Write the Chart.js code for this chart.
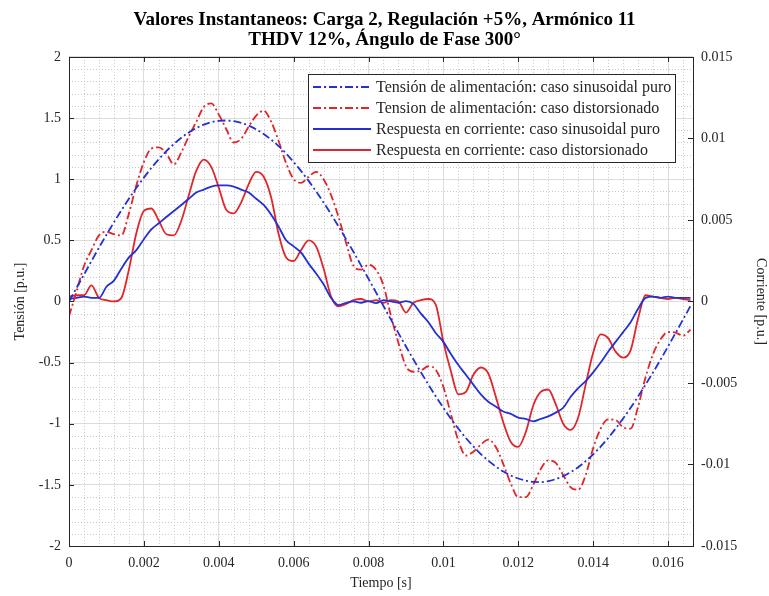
<!DOCTYPE html>
<html>
<head>
<meta charset="utf-8">
<script src="https://cdn.jsdelivr.net/npm/chart.js@4"></script>
<style>
	html, body { margin: 0; padding: 0; background: #fff; }
	canvas { display: block; }
</style>
</head>
<body>
<canvas id="chart" width="769" height="596"></canvas>
<script>
// tiempo [s], one sample every 0.2 ms over one 60 Hz cycle
const time = [0,0.0002,0.0004,0.0006,0.0008,0.001,0.0012,0.0014,0.0016,0.0018,
	0.002,0.0022,0.0024,0.0026,0.0028,0.003,0.0032,0.0034,0.0036,0.0038,
	0.004,0.0042,0.0044,0.0046,0.0048,0.005,0.0052,0.0054,0.0056,0.0058,
	0.006,0.0062,0.0064,0.0066,0.0068,0.007,0.0072,0.0074,0.0076,0.0078,
	0.008,0.0082,0.0084,0.0086,0.0088,0.009,0.0092,0.0094,0.0096,0.0098,
	0.01,0.0102,0.0104,0.0106,0.0108,0.011,0.0112,0.0114,0.0116,0.0118,
	0.012,0.0122,0.0124,0.0126,0.0128,0.013,0.0132,0.0134,0.0136,0.0138,
	0.014,0.0142,0.0144,0.0146,0.0148,0.015,0.0152,0.0154,0.0156,0.0158,
	0.016,0.0162,0.0164,0.0166];

// tension [p.u.] (left axis)
const tensionSinusoidal = [0,0.11,0.22,0.33,0.44,0.545,0.647,0.745,0.84,0.929,
	1.013,1.092,1.164,1.229,1.287,1.339,1.382,1.418,1.446,1.466,
	1.477,1.48,1.474,1.46,1.438,1.408,1.369,1.323,1.27,1.21,
	1.14,1.066,0.986,0.9,0.809,0.713,0.613,0.51,0.404,0.295,
	0.185,0.074,-0.037,-0.149,-0.259,-0.368,-0.475,-0.579,-0.68,-0.778,
	-0.87,-0.959,-1.04,-1.117,-1.185,-1.248,-1.302,-1.35,-1.391,-1.423,
	-1.448,-1.465,-1.476,-1.477,-1.47,-1.453,-1.429,-1.396,-1.356,-1.306,
	-1.25,-1.187,-1.117,-1.04,-0.958,-0.87,-0.777,-0.68,-0.58,-0.476,
	-0.368,-0.259,-0.148,-0.037];

const tensionDistorted = [-0.12,0.08,0.29,0.42,0.54,0.57,0.55,0.54,0.72,0.95,
	1.14,1.25,1.26,1.21,1.12,1.22,1.35,1.47,1.59,1.62,
	1.53,1.41,1.3,1.33,1.43,1.52,1.56,1.47,1.31,1.13,
	1.0,0.97,1.02,1.06,1.0,0.87,0.69,0.48,0.29,0.26,
	0.3,0.26,0.13,-0.12,-0.34,-0.53,-0.575,-0.565,-0.53,-0.56,
	-0.7,-0.92,-1.14,-1.26,-1.23,-1.17,-1.13,-1.19,-1.33,-1.49,
	-1.6,-1.6,-1.5,-1.37,-1.3,-1.32,-1.42,-1.52,-1.54,-1.42,
	-1.2,-1.04,-0.965,-0.97,-1.03,-1.04,-0.86,-0.62,-0.43,-0.31,
	-0.25,-0.255,-0.28,-0.23];

// corriente [p.u.] (right axis)
const currentSinusoidal = [0.00015,0.00022,0.0003,0.00022,0.00022,0.0009,0.00128,0.00202,0.0027,0.00315,
	0.00382,0.00442,0.0048,0.00518,0.00555,0.00592,0.0063,0.00668,0.00686,0.00705,
	0.00712,0.00712,0.00705,0.00686,0.00668,0.0063,0.00592,0.00532,0.00458,0.00375,
	0.00338,0.003,0.00232,0.00172,0.00105,0.00022,-0.00022,-0.00008,0,-0.00008,
	0.00002,-0.0001,0.00008,0,-0.00008,0.00002,-0.00015,-0.00075,-0.00128,-0.00195,
	-0.00248,-0.00322,-0.0039,-0.0045,-0.0051,-0.0057,-0.00615,-0.00645,-0.00675,-0.0069,
	-0.00712,-0.0072,-0.00735,-0.0072,-0.00705,-0.00682,-0.00652,-0.00585,-0.00532,-0.00488,
	-0.00435,-0.00375,-0.00308,-0.00248,-0.00188,-0.00128,-0.00045,0.00022,0.0003,0.00022,
	0.0003,0.00022,0.00022,0.00022];

const currentDistorted = [0.0003,0.00038,0.00038,0.00098,0.00022,0.00008,0,0.00022,0.00195,0.0042,
	0.00555,0.0057,0.00495,0.00412,0.00405,0.00495,0.00652,0.00802,0.0087,0.00825,
	0.00698,0.00562,0.0054,0.00608,0.0072,0.00795,0.00765,0.00638,0.00412,0.0027,
	0.00248,0.00315,0.00375,0.00338,0.00202,0.0003,-0.0003,-0.00015,0.00008,0.00015,
	0,0.00008,-0.00008,0.00008,0,-0.00068,-0.00008,0.00008,0.00015,-0.00022,
	-0.00248,-0.00428,-0.0057,-0.00555,-0.0045,-0.00405,-0.00442,-0.00585,-0.00742,-0.00862,
	-0.00892,-0.00802,-0.00638,-0.00555,-0.0054,-0.0063,-0.0075,-0.00788,-0.00712,-0.0051,
	-0.00315,-0.00202,-0.00225,-0.00308,-0.00345,-0.003,-0.00105,0.00038,0.0003,0.00022,
	0.00015,0.00022,0.00015,0.00008];

const BLUE = '#2331d2';
const RED = '#e1262b';
const DASH_DOT = [8, 3, 2, 3];
const LINE_WIDTH = 1.8;
const SERIF = '"Liberation Serif", "Times New Roman", serif';
const INK = '#262626';

const toPoints = (values) => values.map((v, i) => ({ x: time[i], y: v }));
const fmt = (v) => String(Number(v.toFixed(4)));
const crisp = (p) => Math.round(p) + 0.5;

// minor dotted grid, MATLAB-style box with inward ticks, legend inside the axes
const frame = {
	id: 'frame',
	beforeDatasetsDraw(chart) {
		const { ctx, chartArea: a, scales } = chart;
		ctx.save();
		ctx.strokeStyle = '#c9c9c9';
		ctx.lineWidth = 1;
		ctx.setLineDash([1, 2]);
		ctx.beginPath();
		for (let i = 1; i * 0.0004 < scales.x.max; i++) {
			if (i % 5 === 0) continue;
			const px = crisp(scales.x.getPixelForValue(i * 0.0004));
			ctx.moveTo(px, a.top);
			ctx.lineTo(px, a.bottom);
		}
		for (let i = -19; i <= 19; i++) {
			if (i % 5 === 0) continue;
			const py = crisp(scales.y.getPixelForValue(i / 10));
			ctx.moveTo(a.left, py);
			ctx.lineTo(a.right, py);
		}
		ctx.stroke();
		ctx.restore();
	},
	afterDatasetsDraw(chart) {
		const { ctx, chartArea: a, scales } = chart;
		ctx.save();

		ctx.strokeStyle = INK;
		ctx.lineWidth = 1;
		ctx.setLineDash([]);
		ctx.beginPath();
		scales.x.ticks.forEach(t => {
			const px = crisp(scales.x.getPixelForValue(t.value));
			ctx.moveTo(px, a.bottom); ctx.lineTo(px, a.bottom - 5);
			ctx.moveTo(px, a.top); ctx.lineTo(px, a.top + 5);
		});
		scales.y.ticks.forEach(t => {
			const py = crisp(scales.y.getPixelForValue(t.value));
			ctx.moveTo(a.left, py); ctx.lineTo(a.left + 5, py);
		});
		scales.yR.ticks.forEach(t => {
			const py = crisp(scales.yR.getPixelForValue(t.value));
			ctx.moveTo(a.right, py); ctx.lineTo(a.right - 5, py);
		});
		ctx.stroke();
		ctx.strokeRect(crisp(a.left), crisp(a.top), Math.round(a.right - a.left), Math.round(a.bottom - a.top));

		// legend
		const w = 367, h = 88;
		const x0 = Math.round(a.right - 18 - w), y0 = Math.round(a.top + 17);
		ctx.fillStyle = '#fff';
		ctx.fillRect(x0, y0, w, h);
		ctx.strokeRect(x0 + 0.5, y0 + 0.5, w, h);
		ctx.font = '16px ' + SERIF;
		ctx.textBaseline = 'middle';
		chart.data.datasets.forEach((ds, i) => {
			const y = y0 + 13 + i * 21;
			ctx.strokeStyle = ds.borderColor;
			ctx.lineWidth = ds.borderWidth;
			ctx.setLineDash(ds.borderDash || []);
			ctx.beginPath();
			ctx.moveTo(x0 + 5, y);
			ctx.lineTo(x0 + 63, y);
			ctx.stroke();
			ctx.setLineDash([]);
			ctx.fillStyle = INK;
			ctx.fillText(ds.label, x0 + 68, y + 1);
		});
		ctx.restore();
	}
};

const tickFont = { family: SERIF, size: 14 };
const titleFont = { family: SERIF, size: 14 };

new Chart(document.getElementById('chart'), {
	type: 'line',
	data: {
		datasets: [
			{ label: 'Tensión de alimentación: caso sinusoidal puro', data: toPoints(tensionSinusoidal), borderColor: BLUE, borderWidth: LINE_WIDTH, borderDash: DASH_DOT, yAxisID: 'y' },
			{ label: 'Tension de alimentación: caso distorsionado', data: toPoints(tensionDistorted), borderColor: RED, borderWidth: LINE_WIDTH, borderDash: DASH_DOT, yAxisID: 'y' },
			{ label: 'Respuesta en corriente: caso sinusoidal puro', data: toPoints(currentSinusoidal), borderColor: BLUE, borderWidth: LINE_WIDTH, yAxisID: 'yR' },
			{ label: 'Respuesta en corriente: caso distorsionado', data: toPoints(currentDistorted), borderColor: RED, borderWidth: LINE_WIDTH, yAxisID: 'yR' }
		]
	},
	options: {
		responsive: false,
		animation: false,
		devicePixelRatio: 1,
		layout: { padding: 0 },
		elements: {
			point: { radius: 0 },
			line: { cubicInterpolationMode: 'monotone', fill: false }
		},
		plugins: {
			legend: { display: false },
			tooltip: { enabled: false },
			title: {
				display: true,
				text: ['Valores Instantaneos: Carga 2, Regulación +5%, Armónico 11', 'THDV 12%, Ángulo de Fase 300°'],
				color: '#000',
				font: { family: SERIF, size: 19, weight: 'bold', lineHeight: 1.05 },
				padding: { top: 10, bottom: 7 }
			}
		},
		scales: {
			x: {
				type: 'linear',
				min: 0,
				max: 1 / 60,
				afterFit: (scale) => { scale.height = 50; },
				border: { display: false },
				grid: { color: '#dcdcdc', drawTicks: false },
				ticks: { stepSize: 0.002, includeBounds: false, padding: 9, color: INK, font: tickFont, maxRotation: 0, callback: fmt },
				title: { display: true, text: 'Tiempo [s]', color: INK, font: titleFont, padding: { top: 4, bottom: 4 } }
			},
			y: {
				position: 'left',
				min: -2,
				max: 2,
				afterFit: (scale) => { scale.width = 69; },
				border: { display: false },
				grid: { color: '#dcdcdc', drawTicks: false },
				ticks: { stepSize: 0.5, padding: 8, color: INK, font: tickFont, callback: (v) => String(v) },
				title: { display: true, text: 'Tensión [p.u.]', color: INK, font: titleFont, padding: { top: 12, bottom: 0 } }
			},
			yR: {
				position: 'right',
				min: -0.015,
				max: 0.015,
				afterFit: (scale) => { scale.width = 76; },
				border: { display: false },
				grid: { display: false, drawTicks: false },
				ticks: { stepSize: 0.005, padding: 8, color: INK, font: tickFont, callback: fmt },
				title: { display: true, text: 'Corriente [p.u.]', color: INK, font: titleFont, padding: { top: 0, bottom: 0 } }
			}
		}
	},
	plugins: [frame]
});
</script>
</body>
</html>
